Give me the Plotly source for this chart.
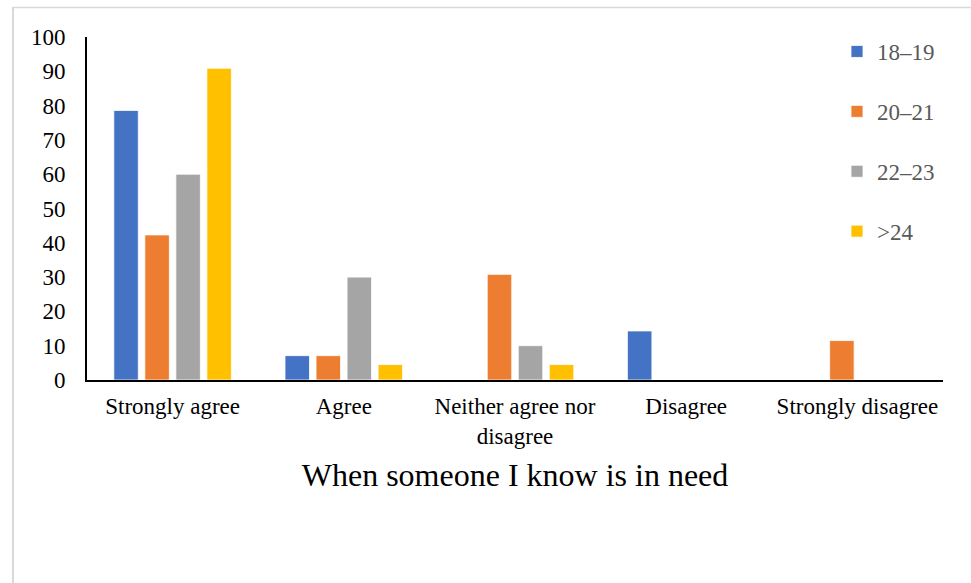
import plotly.graph_objects as go

categories = ["Strongly agree", "Agree", "Neither agree nor<br>disagree", "Disagree", "Strongly disagree"]
series_names = ["18–19", "20–21", "22–23", ">24"]
s18_19 = [78.6, 7.1, 0, 14.3, 0]
s20_21 = [42.3, 7.1, 30.8, 0, 11.5]
s22_23 = [60.0, 30.0, 10.0, 0, 0]
s24 = [90.9, 4.5, 4.5, 0, 0]
colors = ["#4472C4", "#ED7D31", "#A5A5A5", "#FFC000"]
y_ticks = [0, 10, 20, 30, 40, 50, 60, 70, 80, 90, 100]
x_title = "When someone I know is in need"

FONT = "Liberation Serif"

fig = go.Figure()
for i, (name, vals) in enumerate(zip(series_names, [s18_19, s20_21, s22_23, s24])):
    fig.add_trace(go.Bar(
        x=categories, y=vals, name=name, legendgroup=name,
        marker=dict(color=colors[i], line=dict(color="white", width=0.8)),
    ))

W, H = 971, 583
L, R, T, B = 87, 28, 37, 203
pw, ph = W - L - R, H - T - B

def px_x(x):
    return (x - L) / pw

def px_y(y):
    return (H - B - y) / ph

fig.update_layout(
    width=W, height=H,
    margin=dict(l=L, r=R, t=T, b=B, autoexpand=False),
    paper_bgcolor="white", plot_bgcolor="white",
    barmode="group", bargap=0.275, bargroupgap=0.21,
    font=dict(family=FONT, color="#000000"),
    showlegend=True,
    legend=dict(
        x=px_x(837), y=px_y(30), xanchor="left", yanchor="top",
        font=dict(family=FONT, size=23, color="#595959"),
        tracegroupgap=27, itemwidth=30, bgcolor="rgba(0,0,0,0)",
    ),
    xaxis=dict(
        showline=True, linecolor="black", linewidth=2, showgrid=False,
        ticks="", tickfont=dict(family=FONT, size=23, color="#000000"),
        ticklabelstandoff=4,
        title=dict(text=x_title, font=dict(family=FONT, size=32, color="#000000"), standoff=16),
        fixedrange=True,
    ),
    yaxis=dict(
        range=[0, 100], tickvals=y_ticks, showline=True, linecolor="black", linewidth=2,
        showgrid=False, zeroline=False, ticks="",
        tickfont=dict(family=FONT, size=23, color="#000000"), ticklabelstandoff=15,
        fixedrange=True,
    ),
    shapes=[
        dict(type="line", xref="paper", yref="paper", x0=px_x(12), x1=px_x(971), y0=px_y(7.5), y1=px_y(7.5),
             line=dict(color="#D9D9D9", width=1.5)),
        dict(type="line", xref="paper", yref="paper", x0=px_x(13), x1=px_x(13), y0=px_y(7.5), y1=px_y(583),
             line=dict(color="#D9D9D9", width=2)),
    ],
)

fig.write_html("out.html")
